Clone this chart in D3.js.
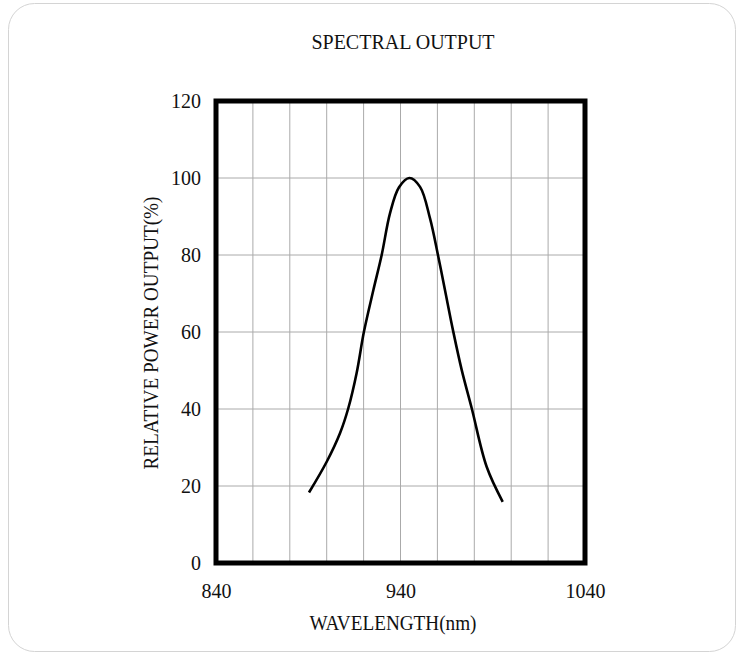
<!DOCTYPE html>
<html>
<head>
<meta charset="utf-8">
<script src="https://cdn.jsdelivr.net/npm/d3@7"></script>
<style>
  body { margin: 0; background: #fff; }
  text { font-family: 'Liberation Serif', 'DejaVu Serif', serif; fill: #111; }
</style>
</head>
<body>
<div id="chart"></div>
<script>
// Data
const wavelength = [890.4, 900, 907.2, 911.7, 916.2, 920.2, 925.3, 929.8, 934.3, 939.2, 944.8,
  950.6, 956, 960.3, 964.1, 968.6, 973.2, 978.6, 986.7, 995.4]
const power = [18.3, 26.3, 33.7, 40.2, 49.3, 60.1, 70.9, 80, 90.8, 97.6, 100,
  97.7, 89.5, 80, 70.9, 60.1, 50.1, 40.2, 25, 15.9]
const xTicks = [840, 940, 1040]
const yTicks = [0, 20, 40, 60, 80, 100, 120]

// Initialization
const width = 742
const height = 654
const margin = { top: 101, right: 157, bottom: 91, left: 216 }
const innerW = width - margin.left - margin.right
const innerH = height - margin.top - margin.bottom

const svg = d3.select('#chart').append('svg')
  .attr('width', width)
  .attr('height', height)

// Outer card
svg.append('rect')
  .attr('x', 8.5)
  .attr('y', 3.5)
  .attr('width', 727)
  .attr('height', 648)
  .attr('rx', 26)
  .attr('fill', '#fff')
  .attr('stroke', '#d4d4d4')

const x = d3.scaleLinear().domain([840, 1040]).range([0, innerW])
const y = d3.scaleLinear().domain([0, 120]).range([innerH, 0])

const g = svg.append('g')
  .attr('transform', `translate(${margin.left},${margin.top})`)

// Grid lines every 20
g.append('g')
  .selectAll('line')
  .data(d3.range(860, 1040, 20))
  .enter()
  .append('line')
  .attr('x1', d => x(d))
  .attr('x2', d => x(d))
  .attr('y1', 0)
  .attr('y2', innerH)
  .attr('stroke', '#aaa')
  .attr('stroke-width', 1)

g.append('g')
  .selectAll('line')
  .data(yTicks.slice(1, -1))
  .enter()
  .append('line')
  .attr('x1', 0)
  .attr('x2', innerW)
  .attr('y1', d => y(d))
  .attr('y2', d => y(d))
  .attr('stroke', '#aaa')
  .attr('stroke-width', 1)

// Curve
const line = d3.line()
  .x((d, i) => x(wavelength[i]))
  .y(d => y(d))
  .curve(d3.curveCatmullRom.alpha(0.5))

g.append('path')
  .datum(power)
  .attr('d', line)
  .attr('fill', 'none')
  .attr('stroke', '#000')
  .attr('stroke-width', 2.6)
  .attr('stroke-linejoin', 'round')

// Frame
g.append('rect')
  .attr('width', innerW)
  .attr('height', innerH)
  .attr('fill', 'none')
  .attr('stroke', '#000')
  .attr('stroke-width', 5)

// Axes (labels only)
const xAxis = g.append('g')
  .attr('transform', `translate(0,${innerH})`)
  .call(d3.axisBottom(x).tickValues(xTicks).tickFormat(d3.format('d')).tickSize(0).tickPadding(21))
xAxis.select('.domain').remove()
xAxis.selectAll('text')
  .style('font-size', '20px')
  .style('font-family', "'Liberation Serif', serif")
  .attr('fill', '#111')

const yAxis = g.append('g')
  .call(d3.axisLeft(y).tickValues(yTicks).tickSize(0).tickPadding(15))
yAxis.select('.domain').remove()
yAxis.selectAll('text')
  .style('font-size', '20px')
  .style('font-family', "'Liberation Serif', serif")
  .attr('fill', '#111')

// Titles
svg.append('text')
  .attr('x', 403)
  .attr('y', 49)
  .attr('text-anchor', 'middle')
  .style('font-size', '20px')
  .text('SPECTRAL OUTPUT')

svg.append('text')
  .attr('x', 393)
  .attr('y', 630)
  .attr('text-anchor', 'middle')
  .attr('textLength', 167)
  .attr('lengthAdjust', 'spacingAndGlyphs')
  .style('font-size', '20px')
  .text('WAVELENGTH(nm)')

svg.append('text')
  .attr('transform', 'translate(158,333) rotate(-90)')
  .attr('text-anchor', 'middle')
  .attr('textLength', 273)
  .attr('lengthAdjust', 'spacingAndGlyphs')
  .style('font-size', '20px')
  .text('RELATIVE POWER OUTPUT(%)')
</script>
</body>
</html>
